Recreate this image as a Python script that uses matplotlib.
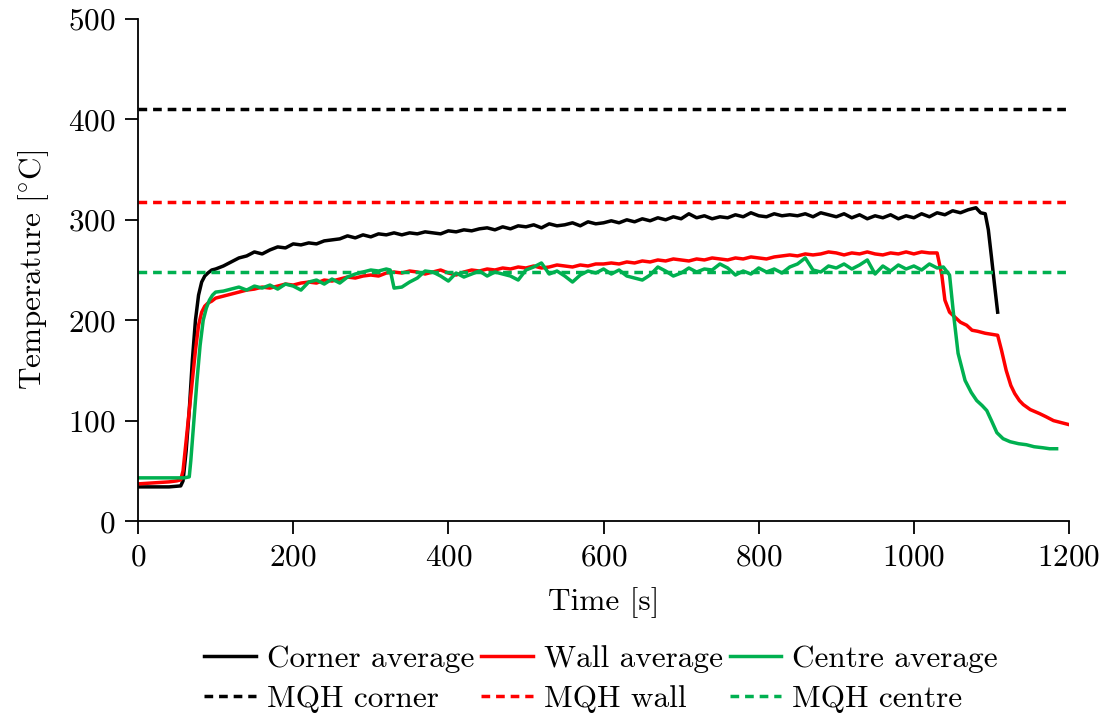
import numpy as np
import matplotlib
matplotlib.use("Agg")
import matplotlib.pyplot as plt

# ---------------- data ----------------
t_corner = [0, 20, 40, 55, 58, 62, 66, 70, 74, 78, 82, 86, 90, 95, 100,
            110, 120, 130, 140, 150, 160, 170, 180, 190, 200, 210, 220, 230, 240, 250,
            260, 270, 280, 290, 300, 310, 320, 330, 340, 350, 360, 370, 380, 390, 400,
            410, 420, 430, 440, 450, 460, 470, 480, 490, 500, 510, 520, 530, 540, 550,
            560, 570, 580, 590, 600, 610, 620, 630, 640, 650, 660, 670, 680, 690, 700,
            710, 720, 730, 740, 750, 760, 770, 780, 790, 800, 810, 820, 830, 840, 850,
            860, 870, 880, 890, 900, 910, 920, 930, 940, 950, 960, 970, 980, 990, 1000,
            1010, 1020, 1030, 1040, 1050, 1060, 1070, 1080, 1086, 1092, 1096, 1100, 1104, 1108]
corner_avg = [34, 34, 34, 35, 40, 70, 110, 160, 200, 225, 238, 244, 247, 250, 251,
              254, 258, 262, 264, 268, 266, 270, 273, 272, 276, 275, 277, 276, 279, 280,
              281, 284, 282, 285, 283, 286, 285, 287, 285, 287, 286, 288, 287, 286, 289,
              288, 290, 289, 291, 292, 290, 293, 291, 294, 293, 295, 292, 296, 294, 295,
              297, 294, 298, 296, 297, 299, 297, 300, 298, 301, 299, 302, 300, 303, 301,
              306, 302, 304, 301, 303, 302, 305, 303, 307, 304, 303, 306, 304, 305, 304,
              306, 303, 307, 305, 303, 306, 302, 305, 301, 304, 302, 305, 301, 304, 302,
              306, 303, 307, 305, 309, 307, 310, 312, 307, 306, 290, 263, 235, 208]

t_wall = [0, 20, 40, 50, 55, 58, 62, 66, 70, 74, 78, 82, 86, 90, 95, 100,
          110, 120, 130, 140, 150, 160, 170, 180, 190, 200, 210, 220, 230, 240, 250,
          260, 270, 280, 290, 300, 310, 320, 330, 340, 350, 360, 370, 380, 390, 400,
          410, 420, 430, 440, 450, 460, 470, 480, 490, 500, 510, 520, 530, 540, 550,
          560, 570, 580, 590, 600, 610, 620, 630, 640, 650, 660, 670, 680, 690, 700,
          710, 720, 730, 740, 750, 760, 770, 780, 790, 800, 810, 820, 830, 840, 850,
          860, 870, 880, 890, 900, 910, 920, 930, 940, 950, 960, 970, 980, 990, 1000,
          1010, 1020, 1030, 1036, 1040, 1046, 1053, 1060, 1068, 1075, 1082, 1092, 1100, 1108,
          1113, 1119, 1125, 1130, 1136, 1141, 1150, 1162, 1170, 1180, 1190, 1200]
wall_avg = [37, 38, 39, 40, 41, 50, 80, 110, 140, 170, 195, 208, 214, 217, 219, 222,
            224, 226, 228, 230, 231, 233, 232, 234, 236, 235, 237, 238, 237, 240, 239,
            241, 243, 242, 244, 245, 244, 247, 248, 247, 249, 248, 246, 248, 250, 247,
            245, 248, 250, 249, 251, 250, 252, 251, 253, 252, 254, 252, 253, 255, 254,
            253, 255, 254, 256, 256, 257, 256, 258, 257, 259, 258, 260, 259, 261, 260,
            259, 261, 260, 262, 261, 260, 262, 261, 263, 262, 261, 263, 264, 265, 264,
            266, 265, 266, 268, 267, 265, 267, 266, 268, 266, 265, 267, 266, 268, 266,
            268, 267, 267, 245, 220, 208, 203, 198, 195, 190, 189, 187, 186, 185,
            170, 150, 135, 127, 120, 116, 111, 107, 104, 100, 98, 96]

t_centre = [0, 20, 40, 60, 66, 68, 72, 76, 80, 84, 88, 92, 96, 100,
            110, 120, 130, 140, 150, 160, 170, 180, 190, 200, 210, 220, 230, 240, 250,
            260, 270, 280, 290, 300, 310, 320, 325, 330, 340, 350, 360, 370, 380, 390, 400,
            410, 420, 430, 440, 450, 460, 470, 480, 490, 500, 510, 520, 530, 540, 550,
            560, 570, 580, 590, 600, 610, 620, 630, 640, 650, 660, 670, 680, 690, 700,
            710, 720, 730, 740, 750, 760, 770, 780, 790, 800, 810, 820, 830, 840, 850,
            860, 870, 880, 890, 900, 910, 920, 930, 940, 950, 960, 970, 980, 990, 1000,
            1010, 1020, 1030, 1038, 1046, 1051, 1057, 1066, 1074, 1081, 1088, 1094, 1100, 1107,
            1115, 1124, 1135, 1145, 1155, 1166, 1175, 1184]
centre_avg = [43, 43, 43, 43, 44, 60, 100, 140, 175, 200, 212, 220, 225, 228,
              229, 231, 233, 230, 234, 232, 235, 231, 236, 234, 230, 238, 240, 236, 241,
              237, 243, 246, 248, 250, 249, 251, 250, 232, 233, 238, 242, 249, 248, 244, 239,
              247, 243, 246, 249, 244, 248, 246, 244, 240, 250, 253, 257, 246, 249, 244,
              238, 245, 249, 247, 251, 246, 250, 244, 242, 240, 245, 253, 249, 244, 247,
              252, 248, 251, 250, 256, 252, 245, 249, 246, 252, 248, 251, 247, 253, 256,
              262, 250, 248, 254, 252, 256, 251, 255, 260, 246, 254, 249, 255, 251, 254,
              250, 256, 252, 253, 245, 207, 167, 140, 128, 120, 115, 110, 100, 88,
              82, 79, 77, 76, 74, 73, 72, 72]

mqh_corner = 410
mqh_wall = 318
mqh_centre = 248

x_range = [0, 1200]
x_ticks = [0, 200, 400, 600, 800, 1000, 1200]
y_ticks = [0, 100, 200, 300, 400, 500]

# ---------------- style ----------------
plt.rcParams['font.family'] = ['cmr10', 'DejaVu Serif']
plt.rcParams['mathtext.fontset'] = 'cm'
plt.rcParams['axes.formatter.use_mathtext'] = True
FS = 22.5

BLACK = '#000000'
RED = '#ff0000'
GREEN = '#00b050'
LW = 2.5

fig = plt.figure(figsize=(11.07, 7.16), dpi=100)
ax = fig.add_axes([0.1247, 0.2723, 0.9657 - 0.1247, 0.9735 - 0.2723])

l1, = ax.plot(t_corner, corner_avg, color=BLACK, lw=LW, label='Corner average')
l2, = ax.plot(t_wall, wall_avg, color=RED, lw=LW, label='Wall average')
l3, = ax.plot(t_centre, centre_avg, color=GREEN, lw=LW, label='Centre average')
d1, = ax.plot(x_range, [mqh_corner] * 2, color=BLACK, lw=LW, dashes=(2.5, 1.7), label='MQH corner')
d2, = ax.plot(x_range, [mqh_wall] * 2, color=RED, lw=LW, dashes=(2.5, 1.7), label='MQH wall')
d3, = ax.plot(x_range, [mqh_centre] * 2, color=GREEN, lw=LW, dashes=(2.5, 1.7), label='MQH centre')

ax.set_xlim(0, 1200)
ax.set_ylim(0, 500)
ax.set_xticks(x_ticks)
ax.set_yticks(y_ticks)
for s in ['top', 'right']:
    ax.spines[s].set_visible(False)
for s in ['left', 'bottom']:
    ax.spines[s].set_linewidth(1.3)
ax.tick_params(direction='out', length=9.5, width=1.3, labelsize=FS, pad=7)

ax.set_xlabel('Time [s]', fontsize=FS, labelpad=11)
ax.set_ylabel('Temperature [$^{\\circ}$C]', fontsize=FS, labelpad=12)

handles = [l1, d1, l2, d2, l3, d3]
fig.legend(handles=handles, labels=[h.get_label() for h in handles], ncol=3,
           loc='center', bbox_to_anchor=(0.543, 0.052), frameon=False,
           fontsize=FS, handlelength=1.65, handletextpad=0.35, columnspacing=0.22,
           labelspacing=0.4, borderpad=0.0)

fig.savefig('out.png', dpi=100)
